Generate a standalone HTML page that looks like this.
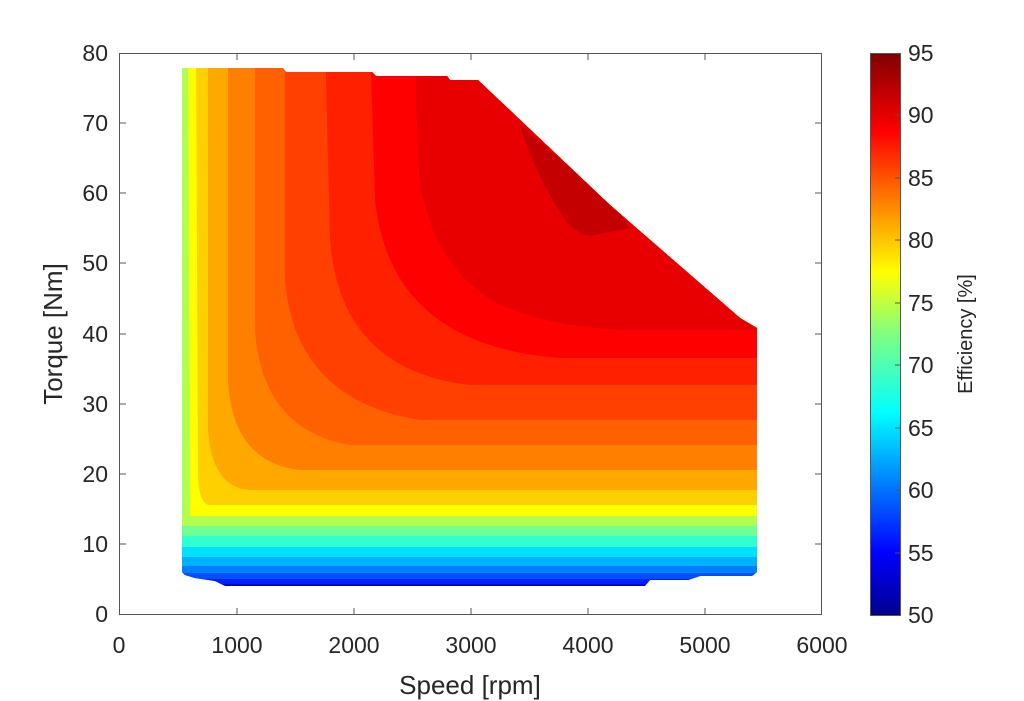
<!DOCTYPE html>
<html><head><meta charset="utf-8"><style>body{margin:0;background:#fff}svg{display:block}</style></head><body>
<svg width="1024" height="701" xmlns="http://www.w3.org/2000/svg" font-family="Liberation Sans, sans-serif">
<defs>
<clipPath id="sh"><path d="M182,68 L283,68 L286,72 L372,72 L376,76 L447,76 L450,80 L478,80 L610,205 L740,318 L757,328 L757,572 L752,576 L700,576 L688,580 L650,580 L645,586 L225,586 L215,581 L195,578 L185,575 L182,572 Z"/></clipPath>
<linearGradient id="jet" x1="0" y1="1" x2="0" y2="0">
<stop offset="0" stop-color="#00008f"/><stop offset="0.11" stop-color="#0000ff"/><stop offset="0.36" stop-color="#00ffff"/><stop offset="0.5" stop-color="#80ff80"/><stop offset="0.61" stop-color="#ffff00"/><stop offset="0.86" stop-color="#ff0000"/><stop offset="1" stop-color="#800000"/>
</linearGradient>
</defs>
<g clip-path="url(#sh)">
<rect x="150" y="50" width="650" height="560" fill="#0000c0"/>
<path d="M100,40 H800 V584 H100Z" fill="#0020ff"/>
<path d="M100,40 H800 V579 H100Z" fill="#0050ff"/>
<path d="M100,40 H800 V573 H100Z" fill="#0080ff"/>
<path d="M100,40 H800 V566 H100Z" fill="#00b0ff"/>
<path d="M100,40 H800 V557 H100Z" fill="#00e0ff"/>
<path d="M100,40 H800 V547 H100Z" fill="#30ffd0"/>
<path d="M100,40 H800 V536 H100Z" fill="#70ff90"/>
<path d="M100,40 H800 V526 H100Z" fill="#b0ff50"/>
<path d="M188,40 H800 V516 H190Z" fill="#ffff00"/>
<path d="M196,40 H800 V505 H210 Q198,505 198,470Z" fill="#ffd000"/>
<path d="M208,40 H800 V490 H250 Q212,488 208,430Z" fill="#ffa800"/>
<path d="M228,40 H800 V470 H300 Q232,462 228,380Z" fill="#ff8000"/>
<path d="M255,40 H800 V445 H350 Q262,430 255,330Z" fill="#ff6000"/>
<path d="M285,40 H800 V420 H420 Q295,400 285,280Z" fill="#ff4000"/>
<path d="M325,40 H800 V385 H470 Q340,370 330,240Z" fill="#ff2000"/>
<path d="M370,40 H800 V358 H560 Q390,345 375,200Z" fill="#ff0000"/>
<path d="M415,40 H800 V330 H640 Q560,330 500,305 Q425,265 418,160Z" fill="#e80000"/>
<path d="M520,125 L615,205 L630,228 L590,236 Q570,234 550,195 Q530,160 520,125Z" fill="#c40000"/>
</g>
<rect x="119.5" y="53.5" width="702" height="561" fill="none" stroke="#555" stroke-width="1"/>
<g stroke="#555">
<path d="M237,614v-6M354,614v-6M471,614v-6M588,614v-6M705,614v-6M237,54v6M354,54v6M471,54v6M588,54v6M705,54v6"/>
<path d="M120,544h6M120,474h6M120,404h6M120,334h6M120,263h6M120,193h6M120,123h6M821,544h-6M821,474h-6M821,404h-6M821,334h-6M821,263h-6M821,193h-6M821,123h-6"/>
</g>
<g font-size="23" fill="#262626" text-anchor="middle">
<text x="119" y="653">0</text><text x="237" y="653">1000</text><text x="354" y="653">2000</text><text x="471" y="653">3000</text><text x="588" y="653">4000</text><text x="705" y="653">5000</text><text x="822" y="653">6000</text>
</g>
<g font-size="23" fill="#262626" text-anchor="end">
<text x="108" y="622">0</text><text x="108" y="552">10</text><text x="108" y="482">20</text><text x="108" y="412">30</text><text x="108" y="342">40</text><text x="108" y="271">50</text><text x="108" y="201">60</text><text x="108" y="131">70</text><text x="108" y="61">80</text>
</g>
<text x="470" y="694" font-size="26" fill="#262626" text-anchor="middle">Speed [rpm]</text>
<text transform="translate(62,334) rotate(-90)" font-size="26" fill="#262626" text-anchor="middle">Torque [Nm]</text>
<rect x="870" y="53" width="30" height="562" fill="url(#jet)"/>
<rect x="870.5" y="53.5" width="30" height="562" fill="none" stroke="#555"/>
<g stroke="#555"><path d="M900,115h-5M900,178h-5M900,240h-5M900,303h-5M900,365h-5M900,428h-5M900,490h-5M900,553h-5"/></g>
<g font-size="23" fill="#262626">
<text x="908" y="623">50</text><text x="908" y="561">55</text><text x="908" y="498">60</text><text x="908" y="436">65</text><text x="908" y="373">70</text><text x="908" y="311">75</text><text x="908" y="248">80</text><text x="908" y="186">85</text><text x="908" y="123">90</text><text x="908" y="61">95</text>
</g>
<text transform="translate(972,334) rotate(-90)" font-size="20" fill="#262626" text-anchor="middle">Efficiency [%]</text>
</svg>
</body></html>
